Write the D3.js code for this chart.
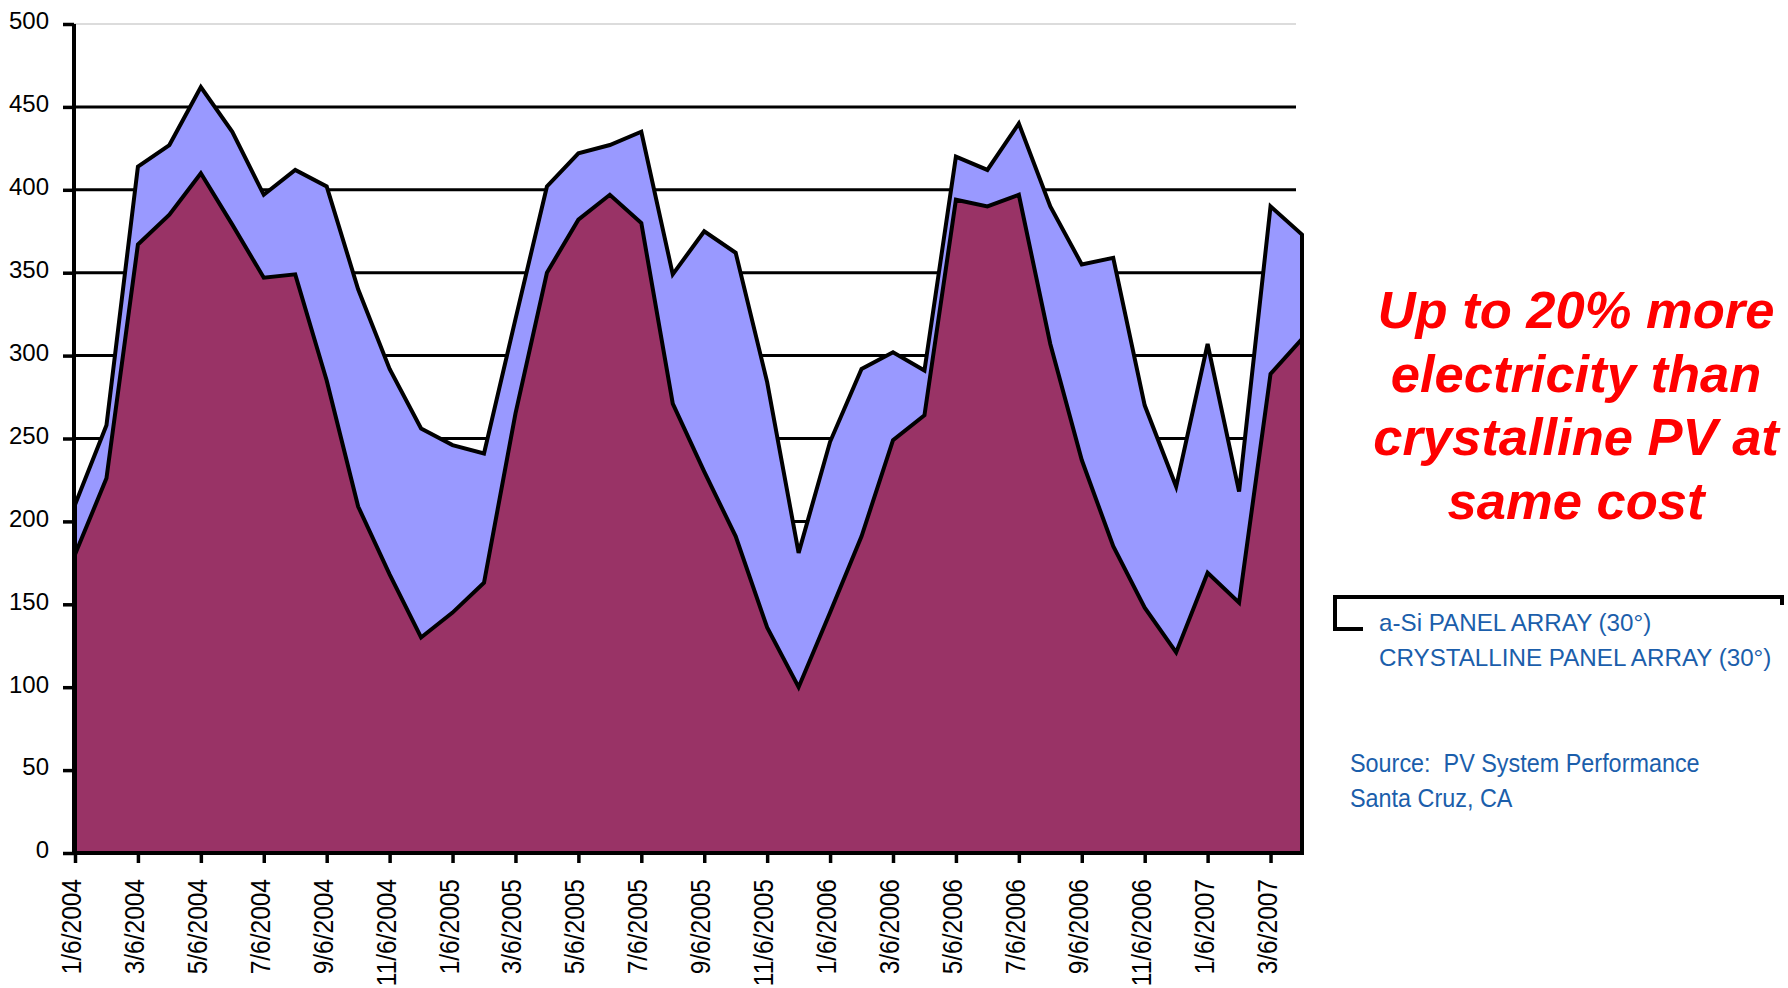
<!DOCTYPE html>
<html>
<head>
<meta charset="utf-8">
<script src="https://cdn.jsdelivr.net/npm/d3@7"></script>
<style>
    body { margin: 0; background: #fff; }
    svg { display: block; font-family: "Liberation Sans", Arial, sans-serif; }
    text { white-space: pre; }
</style>
</head>
<body>
<svg id="chart" width="1788" height="988"></svg>
<script>
// Monthly categories, Jan 2004 - Apr 2007
const months = [
    "1/6/2004", "2/6/2004", "3/6/2004", "4/6/2004", "5/6/2004", "6/6/2004", "7/6/2004", "8/6/2004",
    "9/6/2004", "10/6/2004", "11/6/2004", "12/6/2004",
    "1/6/2005", "2/6/2005", "3/6/2005", "4/6/2005", "5/6/2005", "6/6/2005", "7/6/2005", "8/6/2005",
    "9/6/2005", "10/6/2005", "11/6/2005", "12/6/2005",
    "1/6/2006", "2/6/2006", "3/6/2006", "4/6/2006", "5/6/2006", "6/6/2006", "7/6/2006", "8/6/2006",
    "9/6/2006", "10/6/2006", "11/6/2006", "12/6/2006",
    "1/6/2007", "2/6/2007", "3/6/2007", "4/6/2007"
];

// a-Si panel array (30°)
const aSiValues = [
    210, 258, 414, 427, 462, 435, 397, 412, 402, 340, 292, 256,
    246, 241, 322, 402, 422, 427, 435, 349, 375, 362, 284, 181,
    248, 292, 302, 291, 420, 412, 440, 390, 355, 359, 270, 221,
    307, 218, 390, 373
];

// crystalline panel array (30°)
const crystallineValues = [
    180, 226, 367, 385, 410, 379, 347, 349, 285, 209, 168, 130,
    145, 163, 265, 350, 382, 397, 380, 271, 230, 191, 136, 100,
    145, 191, 249, 264, 394, 390, 397, 307, 237, 185, 148, 121,
    169, 151, 289, 310
];

const yTicks = [0, 50, 100, 150, 200, 250, 300, 350, 400, 450, 500];
const xTickLabels = months.filter((d, i) => i % 2 === 0);

const calloutLines = ["Up to 20% more", "electricity than", "crystalline PV at", "same cost"];
const legendLabels = ["a-Si PANEL ARRAY (30°)", "CRYSTALLINE PANEL ARRAY (30°)"];
const sourceLines = ["Source:  PV System Performance", "Santa Cruz, CA"];

const svg = d3.select("#chart");

const axisLeftX = 74;
const gridRight = 1296;

const xScale = d3.scalePoint()
    .domain(months)
    .range([75, 1302]);

const yScale = d3.scaleLinear()
    .domain([0, 500])
    .range([853, 24]);

// Horizontal gridlines
svg.append("g")
    .selectAll("line")
    .data(yTicks.filter(d => d > 0))
    .join("line")
    .attr("x1", axisLeftX)
    .attr("x2", gridRight)
    .attr("y1", d => yScale(d))
    .attr("y2", d => yScale(d))
    .attr("stroke", d => d === 500 ? "#d0d0d0" : "#000")
    .attr("stroke-width", d => d === 500 ? 1.5 : 3);

// Areas (overlapping, not stacked)
const areaGen = values => d3.area()
    .x((d, i) => xScale(months[i]))
    .y0(yScale(0))
    .y1(d => yScale(d))(values);

svg.append("path")
    .attr("d", areaGen(aSiValues))
    .attr("fill", "#9999FF")
    .attr("stroke", "#000")
    .attr("stroke-width", 4)
    .attr("stroke-linejoin", "miter");

svg.append("path")
    .attr("d", areaGen(crystallineValues))
    .attr("fill", "#993366")
    .attr("stroke", "#000")
    .attr("stroke-width", 4)
    .attr("stroke-linejoin", "miter");

// Y axis
const leftAxis = d3.axisLeft(yScale)
    .tickValues(yTicks)
    .tickSize(11)
    .tickSizeOuter(0)
    .tickPadding(14);

const yAxisG = svg.append("g")
    .attr("transform", `translate(${axisLeftX},0)`)
    .call(leftAxis);
yAxisG.select(".domain").attr("stroke-width", 4).attr("d", `M0,${yScale(500)}V${yScale(0) + 2}`);
yAxisG.selectAll(".tick line").attr("stroke-width", 3.5);
yAxisG.selectAll(".tick text")
    .attr("font-size", 24)
    .attr("font-family", "Liberation Sans, Arial, sans-serif")
    .attr("fill", "#000")
    .attr("dy", "0.2em");

// X axis
const bottomAxis = d3.axisBottom(xScale)
    .tickValues(xTickLabels)
    .tickSize(10)
    .tickSizeOuter(0)
    .tickFormat("");

const xAxisG = svg.append("g")
    .attr("transform", `translate(0,${yScale(0)})`)
    .call(bottomAxis);
xAxisG.select(".domain")
    .attr("stroke-width", 4)
    .attr("d", `M${axisLeftX - 2},0H${xScale(months[months.length - 1]) + 1}`);
xAxisG.selectAll(".tick line").attr("stroke-width", 3.5);

// Rotated x labels
svg.append("g")
    .selectAll("text")
    .data(xTickLabels)
    .join("text")
    .attr("transform", d => `translate(${xScale(d) + 6},879) rotate(-90) scale(1,1.15)`)
    .attr("text-anchor", "end")
    .attr("font-size", 24.5)
    .attr("fill", "#000")
    .text(d => d);

// Callout text
svg.append("g")
    .selectAll("text")
    .data(calloutLines)
    .join("text")
    .attr("x", 1576)
    .attr("y", (d, i) => 328 + i * 63.5)
    .attr("text-anchor", "middle")
    .attr("font-size", 52.5)
    .attr("font-weight", "bold")
    .attr("font-style", "italic")
    .attr("fill", "#FF0000")
    .text(d => d);

// Legend frame fragment
svg.append("path")
    .attr("d", "M1363,629H1335V597H1782V605")
    .attr("fill", "none")
    .attr("stroke", "#000")
    .attr("stroke-width", 4);

svg.append("g")
    .selectAll("text")
    .data(legendLabels)
    .join("text")
    .attr("x", 1379)
    .attr("y", (d, i) => 631 + i * 35)
    .attr("font-size", 24.2)
    .attr("fill", "#1b5eab")
    .text(d => d);

// Source note
svg.append("g")
    .selectAll("text")
    .data(sourceLines)
    .join("text")
    .attr("x", 1350)
    .attr("y", (d, i) => 772 + i * 35)
    .attr("font-size", 26)
    .attr("fill", "#1b5eab")
    .attr("transform", "translate(1350,0) scale(0.9,1) translate(-1350,0)")
    .text(d => d);
</script>
</body>
</html>
